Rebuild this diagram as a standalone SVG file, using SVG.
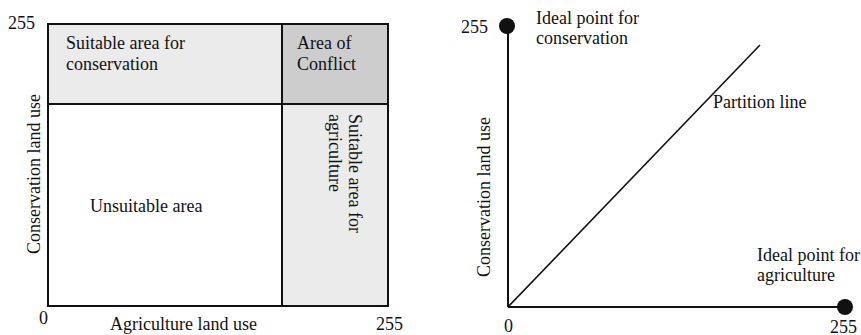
<svg xmlns="http://www.w3.org/2000/svg" width="861" height="335" viewBox="0 0 861 335">
<style>
text{font-family:"Liberation Serif","Times New Roman",serif;font-size:18px;fill:#111}
.ln{stroke:#111;stroke-width:2;fill:none}
.light{fill:#ebebeb}
.dark{fill:#cdcdcd}
</style>
<rect width="861" height="335" fill="#fff"/>
<g id="left-chart">
<g id="suitable-conservation">
<rect class="light" x="48" y="24" width="234" height="80"/>
<text x="66" y="49">Suitable area for</text>
<text x="66" y="70">conservation</text>
</g>
<g id="area-of-conflict">
<rect class="dark" x="282" y="24" width="106" height="80"/>
<text x="297" y="49">Area of</text>
<text x="297" y="70">Conflict</text>
</g>
<g id="suitable-agriculture">
<rect class="light" x="282" y="104" width="106" height="202"/>
<text transform="translate(349,114) rotate(90)">Suitable area for</text>
<text transform="translate(329,114) rotate(90)">agriculture</text>
</g>
<g id="unsuitable-area">
<rect x="48" y="104" width="234" height="202" fill="#fff"/>
<text x="90" y="212">Unsuitable area</text>
</g>
<g id="left-frame">
<rect class="ln" x="48" y="24" width="340" height="282"/>
<line class="ln" x1="48" y1="104" x2="388" y2="104"/>
<line class="ln" x1="282" y1="24" x2="282" y2="306"/>
</g>
<g id="left-labels">
<text x="8" y="29">255</text>
<text x="39" y="324">0</text>
<text x="110" y="330">Agriculture land use</text>
<text x="376" y="330">255</text>
<text transform="translate(40,174) rotate(-90)" text-anchor="middle">Conservation land use</text>
</g>
</g>
<g id="right-chart">
<g id="connectors">
<line class="ln" x1="508" y1="26" x2="508" y2="307"/>
<line class="ln" x1="508" y1="307" x2="845" y2="307"/>
<line stroke="#111" stroke-width="1.6" x1="508" y1="307" x2="760" y2="45"/>
</g>
<g id="ideal-conservation">
<circle cx="507" cy="26" r="8" fill="#111"/>
<text x="536" y="24">Ideal point for</text>
<text x="536" y="44">conservation</text>
</g>
<g id="ideal-agriculture">
<circle cx="845" cy="307" r="8" fill="#111"/>
<text x="757" y="261">Ideal point for</text>
<text x="757" y="281">agriculture</text>
</g>
<g id="partition-label">
<text x="713" y="108">Partition line</text>
</g>
<g id="right-labels">
<text x="461" y="33">255</text>
<text x="504" y="332">0</text>
<text x="830" y="333">255</text>
<text transform="translate(490,197) rotate(-90)" text-anchor="middle">Conservation land use</text>
</g>
</g>
</svg>
